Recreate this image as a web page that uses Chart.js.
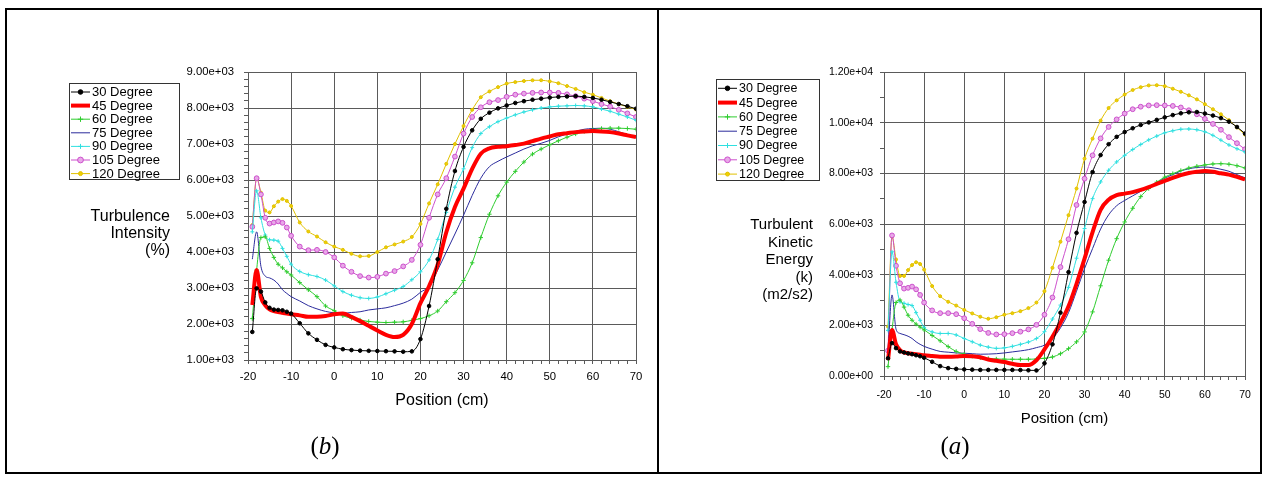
<!DOCTYPE html>
<html>
<head>
<meta charset="utf-8">
<script src="https://cdn.jsdelivr.net/npm/chart.js@4.4.0/dist/chart.umd.min.js"></script>
<style>
body { margin:0; background:#fff; width:1266px; height:477px; position:relative; overflow:hidden; font-family:"Liberation Sans", Arial, sans-serif; }
#moldura { position:absolute; left:5px; top:8px; width:1253px; height:462px; border:2px solid #000; }
#divisor { position:absolute; left:657px; top:8px; width:2px; height:466px; background:#000; }
canvas { position:absolute; }
.rotulo { position:absolute; top:432px; width:60px; text-align:center; font-family:"Liberation Serif","Times New Roman",serif; font-size:25px; }
</style>
</head>
<body>
<div id="moldura"></div>
<div id="divisor"></div>
<canvas id="graficoB" width="650" height="460" style="left:7px;top:10px;width:650px;height:460px"></canvas>
<canvas id="graficoA" width="601" height="460" style="left:659px;top:10px;width:601px;height:460px"></canvas>
<div class="rotulo" style="left:295px">(<i>b</i>)</div>
<div class="rotulo" style="left:925px">(<i>a</i>)</div>
<script>
// posicoes (cm)
var posicoes = [-19, -18, -17, -16, -15, -14, -13, -12, -11, -10, -8, -6, -4, -2, 0, 2, 4, 6, 8, 10, 12, 14, 16, 18, 20, 22, 24, 26, 28, 30, 32, 34, 36, 38, 40, 42, 44, 46, 48, 50, 52, 54, 56, 58, 60, 62, 64, 66, 68, 70];
var graus = [30, 45, 60, 75, 90, 105, 120];

// (b) Turbulence Intensity
var ti30 = [1780, 2990, 2900, 2600, 2450, 2400, 2390, 2380, 2340, 2290, 2020, 1740, 1560, 1420, 1350, 1300, 1275, 1260, 1255, 1250, 1245, 1240, 1230, 1240, 1580, 2500, 3800, 5200, 6250, 6920, 7380, 7700, 7870, 7990, 8070, 8140, 8190, 8230, 8260, 8290, 8310, 8320, 8330, 8310, 8280, 8230, 8170, 8110, 8050, 7980];
var ti45 = [2530, 3500, 2750, 2520, 2410, 2360, 2330, 2310, 2290, 2270, 2240, 2200, 2200, 2220, 2270, 2290, 2200, 2080, 1950, 1820, 1700, 1640, 1700, 2000, 2580, 3050, 3650, 4550, 5250, 5760, 6310, 6730, 6880, 6920, 6940, 6970, 7010, 7080, 7150, 7210, 7270, 7300, 7330, 7350, 7360, 7350, 7330, 7290, 7240, 7190];
var ti60 = [2150, 3500, 4400, 4420, 4100, 3850, 3660, 3560, 3450, 3360, 3150, 2950, 2760, 2500, 2370, 2230, 2160, 2110, 2070, 2050, 2040, 2050, 2060, 2100, 2150, 2230, 2360, 2620, 2870, 3210, 3700, 4400, 5050, 5560, 5940, 6240, 6500, 6720, 6860, 6980, 7090, 7190, 7280, 7350, 7400, 7430, 7440, 7440, 7430, 7410];
var ti75 = [3800, 4560, 3600, 3330, 3280, 3220, 3110, 2950, 2850, 2760, 2640, 2510, 2420, 2350, 2310, 2300, 2320, 2340, 2390, 2420, 2450, 2510, 2580, 2690, 2880, 3050, 3500, 4000, 4500, 5020, 5570, 6050, 6370, 6520, 6640, 6750, 6860, 6950, 7020, 7100, 7200, 7280, 7350, 7410, 7430, 7440, 7410, 7340, 7260, 7190];
var ti90 = [4560, 5700, 4950, 4470, 4340, 4330, 4300, 4100, 3880, 3660, 3460, 3370, 3320, 3220, 3060, 2900, 2800, 2730, 2710, 2750, 2840, 2940, 3040, 3230, 3450, 3780, 4350, 5100, 5800, 6310, 6900, 7290, 7480, 7620, 7720, 7810, 7890, 7950, 8000, 8030, 8050, 8060, 8070, 8060, 8030, 7970, 7910, 7830, 7750, 7660];
var ti105 = [4700, 6050, 5600, 4950, 4790, 4820, 4850, 4810, 4680, 4450, 4150, 4050, 4060, 4000, 3850, 3620, 3450, 3330, 3290, 3310, 3400, 3470, 3600, 3780, 4200, 4950, 5600, 6050, 6650, 7290, 7750, 8020, 8160, 8220, 8310, 8370, 8400, 8420, 8430, 8430, 8420, 8380, 8330, 8260, 8190, 8110, 8040, 7950, 7850, 7750];
var ti120 = [4750, 6050, 5650, 5150, 5100, 5270, 5400, 5470, 5420, 5280, 4820, 4570, 4430, 4270, 4150, 4060, 3950, 3880, 3890, 4000, 4130, 4210, 4290, 4420, 4780, 5350, 5880, 6450, 7000, 7500, 7950, 8300, 8460, 8580, 8680, 8720, 8750, 8770, 8770, 8740, 8690, 8610, 8530, 8440, 8370, 8280, 8190, 8110, 8030, 7960];

// (a) Turbulent Kinetic Energy
var tke30 = [700, 1300, 1100, 970, 930, 890, 860, 820, 780, 720, 560, 390, 310, 280, 260, 250, 240, 240, 240, 240, 240, 235, 225, 220, 500, 1250, 2500, 4100, 5650, 6870, 8050, 8720, 9150, 9440, 9630, 9780, 9910, 10010, 10110, 10210, 10300, 10370, 10410, 10420, 10360, 10280, 10180, 10040, 9830, 9570];
var tke45 = [630, 1820, 1250, 1020, 930, 900, 880, 860, 840, 820, 790, 760, 760, 770, 790, 780, 740, 650, 600, 550, 480, 430, 430, 620, 1050, 1550, 2100, 2750, 3640, 4630, 5680, 6560, 6960, 7140, 7200, 7260, 7350, 7460, 7580, 7700, 7820, 7930, 8010, 8060, 8090, 8060, 8000, 7950, 7860, 7760];
var tke60 = [370, 1820, 2900, 3000, 2720, 2400, 2200, 2050, 1930, 1820, 1600, 1390, 1160, 970, 860, 780, 720, 690, 670, 665, 660, 660, 660, 670, 700, 750, 880, 1080, 1350, 1740, 2530, 3560, 4570, 5420, 6080, 6620, 7080, 7400, 7650, 7850, 7990, 8110, 8210, 8280, 8330, 8370, 8380, 8360, 8300, 8210];
var tke75 = [1000, 3200, 1850, 1680, 1630, 1570, 1480, 1350, 1250, 1170, 1060, 970, 940, 910, 900, 880, 860, 865, 880, 910, 950, 990, 1040, 1120, 1220, 1480, 1900, 2500, 3350, 4240, 5030, 5800, 6360, 6720, 6930, 7110, 7290, 7460, 7640, 7810, 7950, 8090, 8180, 8230, 8250, 8220, 8160, 8080, 7950, 7820];
var tke90 = [1800, 4900, 3700, 2930, 2870, 2820, 2780, 2500, 2200, 1920, 1740, 1680, 1680, 1620, 1480, 1350, 1220, 1140, 1090, 1110, 1170, 1250, 1340, 1480, 1750, 2250, 2800, 3500, 4650, 5820, 7000, 7660, 8120, 8450, 8710, 8940, 9140, 9320, 9470, 9600, 9680, 9740, 9750, 9720, 9640, 9500, 9310, 9120, 8970, 8840];
var tke105 = [1000, 5550, 4350, 3660, 3450, 3480, 3530, 3420, 3200, 2900, 2590, 2480, 2480, 2440, 2280, 2060, 1850, 1700, 1640, 1650, 1690, 1750, 1840, 2020, 2420, 3100, 4300, 5400, 6750, 7790, 8710, 9380, 9830, 10130, 10360, 10530, 10630, 10680, 10690, 10680, 10660, 10600, 10490, 10330, 10150, 9950, 9720, 9430, 9190, 8950];
var tke120 = [1950, 5500, 4600, 3950, 3950, 4180, 4380, 4490, 4420, 4200, 3550, 3150, 2930, 2780, 2610, 2470, 2340, 2260, 2320, 2420, 2480, 2560, 2680, 2900, 3350, 4270, 5300, 6350, 7400, 8580, 9370, 10080, 10580, 10880, 11110, 11290, 11400, 11470, 11480, 11440, 11340, 11220, 11080, 10920, 10730, 10530, 10330, 10100, 9810, 9530];

// estilos das series
var cores = ['#000000', '#ff0000', '#2ecc2e', '#2b2b9c', '#2fe0e0', '#cc4fcc', '#e0c000'];
var espessuras = [1, 4, 1, 1, 1, 1, 1];
var marcadores = ['circle', false, 'cross', false, 'cross', 'circle', 'circle'];
var raios = [1.8, 0, 2.2, 0, 2, 2.4, 1.5];
var preenchimentos = ['#000000', '#ff0000', '#2ecc2e', '#2b2b9c', '#2fe0e0', '#e8a8e8', '#f0d000'];

function notacao(v) {
    var partes = v.toExponential(2).split('e');
    var n = parseInt(partes[1], 10);
    return partes[0] + 'e' + (n < 0 ? '-' : '+') + String(Math.abs(n)).padStart(2, '0');
}

var textosLaterais = {
    id: 'textosLaterais',
    afterDraw: function (chart, args, o) {
        var ctx = chart.ctx;
        ctx.save();
        ctx.fillStyle = '#000';
        ctx.textAlign = 'right';
        ctx.textBaseline = 'middle';
        ctx.font = o.fonteTitulo + 'px "Liberation Sans", Arial';
        o.titulo.forEach(function (t, i) {
            ctx.fillText(t, o.tituloX, o.tituloY + i * o.tituloPasso);
        });

        var L = o.legenda;
        ctx.strokeStyle = '#333';
        ctx.lineWidth = 1;
        ctx.strokeRect(L.x + 0.5, L.y + 0.5, L.w, L.h);
        ctx.textAlign = 'left';
        ctx.font = L.fonte + 'px "Liberation Sans", Arial';
        chart.data.datasets.forEach(function (ds, i) {
            var y = L.y + L.primeira + i * L.passo;
            ctx.strokeStyle = ds.borderColor;
            ctx.lineWidth = ds.borderWidth;
            ctx.beginPath();
            ctx.moveTo(L.x + 2, y);
            ctx.lineTo(L.x + 21, y);
            ctx.stroke();
            if (ds.pointRadius > 0) {
                ctx.fillStyle = ds.pointBackgroundColor;
                ctx.lineWidth = 1;
                Chart.helpers.drawPoint(ctx, { pointStyle: ds.pointStyle, radius: ds.pointRadius + 0.5, borderWidth: 1, rotation: 0 }, L.x + 11.5, y);
            }
            ctx.fillStyle = '#000';
            ctx.fillText(ds.label, L.x + 23, y + 0.5);
        });
        ctx.restore();
    }
};

function montarGrafico(idCanvas, series, cfg) {
    var datasets = graus.map(function (g, i) {
        return {
            label: g + ' Degree',
            data: posicoes.map(function (x, k) { return { x: x, y: series[i][k] }; }),
            borderColor: cores[i],
            backgroundColor: cores[i],
            borderWidth: espessuras[i],
            pointStyle: marcadores[i],
            pointRadius: raios[i],
            pointBorderColor: cores[i],
            pointBackgroundColor: preenchimentos[i],
            pointBorderWidth: 1,
            cubicInterpolationMode: 'monotone',
            fill: false
        };
    });

    function corGrade(passo) {
        return function (c) {
            if (!c.tick) return 'rgba(0,0,0,0)';
            return Math.abs(c.tick.value % passo) < 1e-6 ? '#5a5a5a' : 'rgba(0,0,0,0)';
        };
    }

    return new Chart(document.getElementById(idCanvas), {
        type: 'line',
        data: { datasets: datasets },
        plugins: [textosLaterais],
        options: {
            responsive: false,
            animation: false,
            events: [],
            layout: { padding: { left: 0, top: cfg.topo, right: cfg.direita, bottom: cfg.baixo } },
            plugins: {
                legend: { display: false },
                tooltip: { enabled: false },
                textosLaterais: cfg.textos
            },
            scales: {
                x: {
                    type: 'linear',
                    min: -20,
                    max: 70,
                    ticks: {
                        stepSize: 2,
                        autoSkip: false,
                        maxRotation: 0,
                        padding: cfg.padX,
                        color: '#000',
                        font: { family: '"Liberation Sans", Arial', size: cfg.fonteTick },
                        callback: function (v) { return Math.abs(v % 10) < 1e-6 ? String(v) : ''; }
                    },
                    grid: { color: corGrade(10), tickColor: '#5a5a5a', tickLength: 4, lineWidth: 1 },
                    border: { color: '#5a5a5a' },
                    title: {
                        display: true,
                        text: 'Position (cm)',
                        color: '#000',
                        padding: 0,
                        font: { family: '"Liberation Sans", Arial', size: cfg.fonteTituloX }
                    },
                    afterFit: function (s) { s.height = cfg.alturaX; }
                },
                y: {
                    min: cfg.yMin,
                    max: cfg.yMax,
                    ticks: {
                        stepSize: cfg.passoMenor,
                        autoSkip: false,
                        padding: cfg.padY,
                        color: '#000',
                        font: { family: '"Liberation Sans", Arial', size: cfg.fonteTick },
                        callback: function (v) { return Math.abs(v % cfg.passoMaior) < 1e-6 ? notacao(v) : ''; }
                    },
                    grid: { color: corGrade(cfg.passoMaior), tickColor: '#5a5a5a', tickLength: 4, lineWidth: 1 },
                    border: { color: '#5a5a5a' },
                    afterFit: function (s) { s.width = cfg.larguraY; }
                }
            }
        }
    });
}

montarGrafico('graficoB', [ti30, ti45, ti60, ti75, ti90, ti105, ti120], {
    yMin: 1000, yMax: 9000, passoMenor: 200, passoMaior: 1000,
    topo: 62, direita: 21, baixo: 60, alturaX: 50, larguraY: 241,
    padX: 6, padY: 10, fonteTick: 11.3, fonteTituloX: 16,
    textos: {
        titulo: ['Turbulence', 'Intensity', '(%)'],
        tituloX: 163, tituloY: 207, tituloPasso: 16.7, fonteTitulo: 16,
        legenda: { x: 62, y: 73, w: 110, h: 96, primeira: 9, passo: 13.6, fonte: 13 }
    }
});

montarGrafico('graficoA', [tke30, tke45, tke60, tke75, tke90, tke105, tke120], {
    yMin: 0, yMax: 12000, passoMenor: 1000, passoMaior: 2000,
    topo: 62, direita: 15, baixo: 42, alturaX: 52, larguraY: 225,
    padX: 9, padY: 7, fonteTick: 10.5, fonteTituloX: 15,
    textos: {
        titulo: ['Turbulent', 'Kinetic', 'Energy', '(k)', '(m2/s2)'],
        tituloX: 154, tituloY: 215, tituloPasso: 17.5, fonteTitulo: 15,
        legenda: { x: 57, y: 69, w: 103, h: 101, primeira: 9.3, passo: 14.3, fonte: 12.5 }
    }
});
</script>
</body>
</html>
